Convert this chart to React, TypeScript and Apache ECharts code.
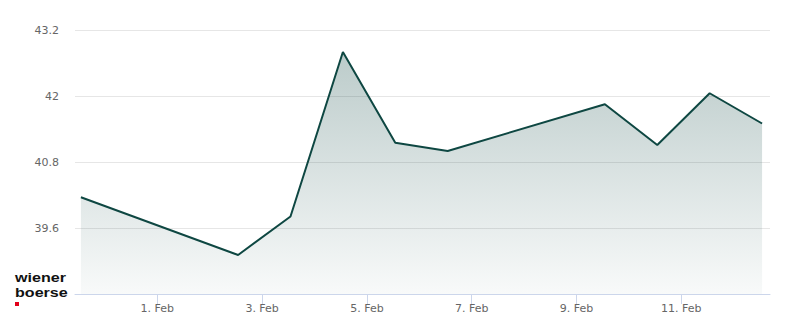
import React, { useEffect, useRef } from "react";
import * as echarts from "echarts";

// Trading dates (closing prices), Jan 30 – Feb 12
const dates: string[] = [
  "2026-01-30", "2026-02-02", "2026-02-03", "2026-02-04", "2026-02-05",
  "2026-02-06", "2026-02-09", "2026-02-10", "2026-02-11", "2026-02-12",
];
const prices: number[] = [40.16, 39.11, 39.81, 42.8, 41.15, 41.0, 41.85, 41.11, 42.05, 41.5];
const tickDays: number[] = [1, 3, 5, 7, 9, 11];
const monthLabel = "Feb";
const logoLines: string[] = ["wiener", "boerse"];

const DAY = 86400000;
const BASE = Date.UTC(2026, 0, 31); // day number 0 -> Feb 1 = 1
const PRICE_HOUR = 13; // timestamp hour of each data point

function dayNumber(d: string): number {
  const [y, m, dd] = d.split("-").map(Number);
  return (Date.UTC(y, m - 1, dd) - BASE) / DAY + PRICE_HOUR / 24;
}

export default function App() {
  const ref = useRef<HTMLDivElement>(null);
  useEffect(() => {
    if (!ref.current) return;
    const chart = echarts.init(ref.current, undefined, { renderer: "svg" });
    const data = dates.map((d, i) => [dayNumber(d), prices[i]]);
    const font = "'DejaVu Sans', sans-serif";
    chart.setOption({
      animation: false,
      grid: { left: 75, right: 30, top: 30, bottom: 30 },
      xAxis: {
        type: "value",
        min: -0.571,
        max: 12.693,
        axisLine: { show: true, lineStyle: { color: "#ccd6eb", width: 1 } },
        axisTick: { show: true, length: 10, lineStyle: { color: "#ccd6eb" }, customValues: tickDays },
        splitLine: { show: false },
        axisLabel: {
          customValues: tickDays,
          formatter: (v: number) => `${v}. ${monthLabel}`,
          color: "#666666",
          fontSize: 11,
          fontFamily: font,
          margin: 9,
        },
      },
      yAxis: {
        type: "value",
        min: 38.4,
        max: 43.2,
        interval: 1.2,
        axisLine: { show: false },
        axisTick: { show: false },
        splitLine: { lineStyle: { color: "#e6e6e6", width: 1 } },
        axisLabel: {
          color: "#666666",
          fontSize: 11,
          fontFamily: font,
          margin: 16,
          formatter: (v: number) => {
            if (Math.abs(v - 38.4) < 1e-6) return "";
            return String(Math.round(v * 10) / 10);
          },
        },
      },
      series: [
        {
          type: "line",
          data,
          symbol: "none",
          lineStyle: { color: "#0e4742", width: 2 },
          itemStyle: { color: "#0e4742" },
          areaStyle: {
            color: new echarts.graphic.LinearGradient(0, 0, 0, 1, [
              { offset: 0, color: "rgba(15,71,67,0.40)" },
              { offset: 1, color: "rgba(15,71,67,0.04)" },
            ]),
          },
        },
      ],
      graphic: [
        ...logoLines.map((t, i) => ({
          type: "text",
          x: 15,
          y: 270 + i * 15,
          scaleX: 1.2,
          style: {
            text: t,
            x: 0,
            y: 0,
            font: `bold 13.4px 'Liberation Sans', Arial, sans-serif`,
            lineHeight: 15,
            fill: "#111111",
            verticalAlign: "top",
          },
        })),
        {
          type: "rect",
          shape: { x: 15, y: 302, width: 4, height: 4 },
          style: { fill: "#e2001a" },
        },
      ],
    });
    return () => chart.dispose();
  }, []);
  return <div ref={ref} style={{ width: 800, height: 324, margin: -8 }} />;
}
